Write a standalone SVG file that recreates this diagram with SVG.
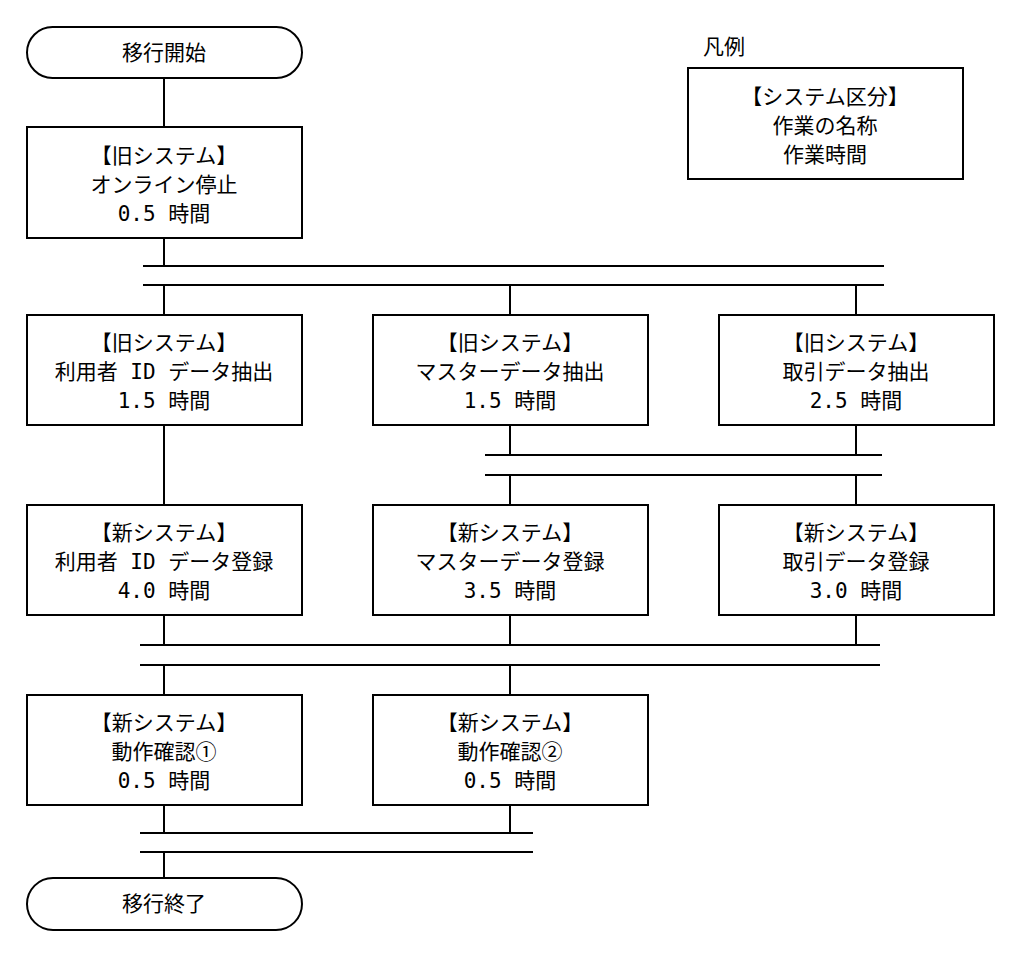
<svg xmlns="http://www.w3.org/2000/svg" width="1019" height="972" viewBox="0 0 1019 972">
<style>
.b{fill:#fff;stroke:#000;stroke-width:2}
.l{stroke:#000;stroke-width:2;fill:none}
text{font-family:"DejaVu Sans Mono","Noto Sans CJK JP",monospace;font-size:21px;text-anchor:middle;fill:#000}
</style>
<rect width="1019" height="972" fill="#fff"/>
<g id="connectors">
<path class="l" d="M164 78V127M164 238V266M143 266H884M143 285H884M164 285V315M510 285V315M856 285V315M164 425V505M510 425V455M856 425V455M485 455H882M485 475H882M510 475V505M856 475V505M164 615V645M510 615V645M856 615V645M140 645H880M140 665H880M164 665V695M510 665V695M164 805V833M510 805V833M140 833H533M140 852H533M164 852V878"/>
</g>
<g id="start"><rect class="b" x="27" y="27" width="275" height="51" rx="25.5"/><text x="164" y="60">移行開始</text></g>
<g id="n1"><rect class="b" x="27" y="127" width="275" height="111"/><text x="164" y="163">【旧システム】</text><text x="164" y="192">オンライン停止</text><text x="164" y="221">0.5 時間</text></g>
<g id="n2a"><rect class="b" x="27" y="315" width="275" height="110"/><text x="164" y="350">【旧システム】</text><text x="164" y="379">利用者 ID データ抽出</text><text x="164" y="408">1.5 時間</text></g>
<g id="n2b"><rect class="b" x="373" y="315" width="275" height="110"/><text x="510" y="350">【旧システム】</text><text x="510" y="379">マスターデータ抽出</text><text x="510" y="408">1.5 時間</text></g>
<g id="n2c"><rect class="b" x="719" y="315" width="275" height="110"/><text x="856" y="350">【旧システム】</text><text x="856" y="379">取引データ抽出</text><text x="856" y="408">2.5 時間</text></g>
<g id="n3a"><rect class="b" x="27" y="505" width="275" height="110"/><text x="164" y="540">【新システム】</text><text x="164" y="569">利用者 ID データ登録</text><text x="164" y="598">4.0 時間</text></g>
<g id="n3b"><rect class="b" x="373" y="505" width="275" height="110"/><text x="510" y="540">【新システム】</text><text x="510" y="569">マスターデータ登録</text><text x="510" y="598">3.5 時間</text></g>
<g id="n3c"><rect class="b" x="719" y="505" width="275" height="110"/><text x="856" y="540">【新システム】</text><text x="856" y="569">取引データ登録</text><text x="856" y="598">3.0 時間</text></g>
<g id="n4a"><rect class="b" x="27" y="695" width="275" height="110"/><text x="164" y="730">【新システム】</text><text x="164" y="759">動作確認①</text><text x="164" y="788">0.5 時間</text></g>
<g id="n4b"><rect class="b" x="373" y="695" width="275" height="110"/><text x="510" y="730">【新システム】</text><text x="510" y="759">動作確認②</text><text x="510" y="788">0.5 時間</text></g>
<g id="end"><rect class="b" x="27" y="878" width="275" height="52" rx="26"/><text x="164" y="911">移行終了</text></g>
<g id="legend"><text x="724" y="54">凡例</text><rect class="b" x="688" y="68" width="275" height="111"/><text x="825" y="104">【システム区分】</text><text x="825" y="133">作業の名称</text><text x="825" y="162">作業時間</text></g>
</svg>
